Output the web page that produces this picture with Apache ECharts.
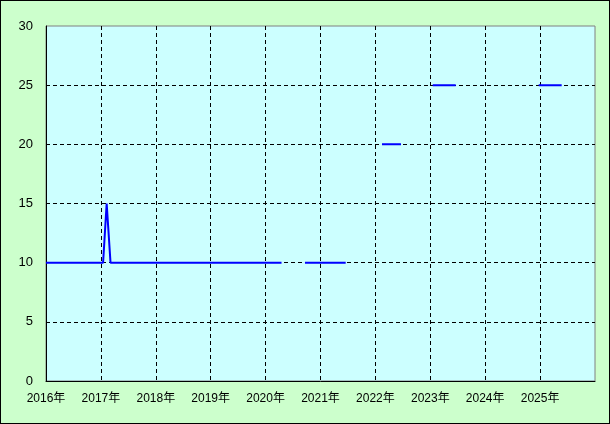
<!DOCTYPE html>
<html><head><meta charset="utf-8">
<script src="https://cdn.jsdelivr.net/npm/echarts@6/dist/echarts.min.js"></script>
<style>html,body{margin:0;padding:0;background:#ccffcc}#c{width:610px;height:424px;box-sizing:border-box;border:1px solid #000}</style>
</head><body><div id="c"></div>
<script>
// Time (decimal year) and value; null value breaks the line
var times  = [2016.0, 2017.04, 2017.105, 2017.135, 2017.175, 2020.29, 2020.5, 2020.717, 2021.459, 2021.8, 2022.12, 2022.466, 2022.8, 2023.044, 2023.463, 2024.2, 2024.974, 2025.393];
var values = [10, 10, 15, 15, 10, 10, null, 10, 10, null, 20, 20, null, 25, 25, null, 25, 25];
var yTicks = [0, 5, 10, 15, 20, 25, 30];
var xYears = [2016, 2017, 2018, 2019, 2020, 2021, 2022, 2023, 2024, 2025];

var data = times.map(function(t, i){ return [t, values[i] === null ? '-' : values[i]]; });
var font = '"Liberation Sans","Noto Sans CJK JP",sans-serif';
var chart = echarts.init(document.getElementById('c'));
chart.setOption({
  backgroundColor: '#ccffcc',
  animation: false,
  grid: {left: 45, top: 25, right: 14, bottom: 42, show: true, backgroundColor: '#ccffff', borderColor: '#808080', borderWidth: 1},
  xAxis: [{
    type: 'value', min: xYears[0], max: xYears[xYears.length-1] + 1, interval: 1,
    axisLine: {lineStyle: {color: '#000', width: 1}},
    axisTick: {show: false},
    axisLabel: {color: '#000', fontSize: 12, fontFamily: font, margin: 12, showMaxLabel: false,
      formatter: function(v){ return xYears.indexOf(v) >= 0 ? v + '年' : ''; }},
    splitLine: {show: true, showMinLine: false, showMaxLine: false, lineStyle: {color: '#000', type: [4, 3], width: 1}}
  }],
  yAxis: [{
    type: 'value', min: yTicks[0], max: yTicks[yTicks.length-1], interval: 5,
    axisLine: {show: true, lineStyle: {color: '#000', width: 1}},
    axisTick: {show: false},
    axisLabel: {color: '#000', fontSize: 13, fontFamily: font, margin: 13},
    splitLine: {show: true, showMinLine: false, showMaxLine: false, lineStyle: {color: '#000', type: [4, 3], width: 1}}
  }],
  series: [{
    type: 'line', data: data, showSymbol: false, symbol: 'none', connectNulls: false,
    lineStyle: {color: '#0000ff', width: 2}
  }]
});
</script></body></html>
